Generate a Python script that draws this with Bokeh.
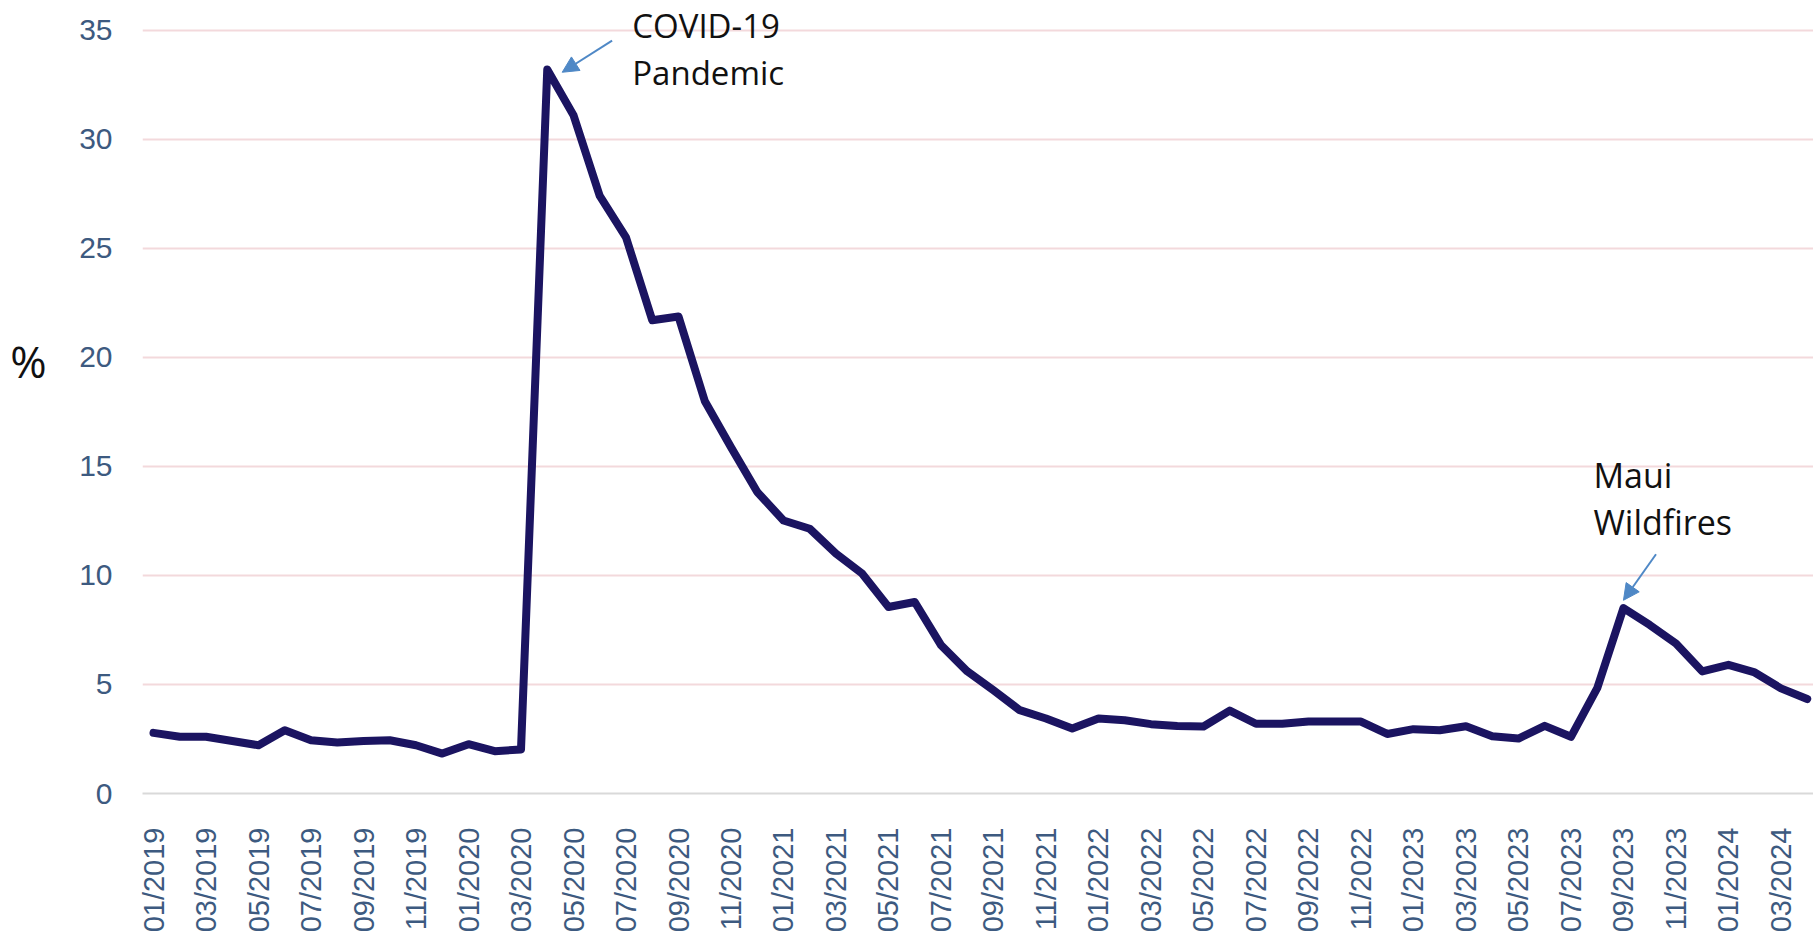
import math
from bokeh.plotting import figure
from bokeh.models import (ColumnDataSource, FixedTicker, Label, Arrow, NormalHead,
                          LinearAxis)
from bokeh.embed import file_html
from bokeh.resources import INLINE

# ---------------- data ----------------
years = [2019, 2020, 2021, 2022, 2023, 2024]
months = [f"{m:02d}/{y}" for y in years for m in range(1, 13)][:64]   # 01/2019 .. 04/2024

values = [
    2.78, 2.60, 2.60, 2.41, 2.21, 2.90, 2.44, 2.34, 2.41, 2.44, 2.21, 1.83,   # 2019
    2.26, 1.94, 2.02, 33.2, 31.1, 27.4, 25.5, 21.7, 21.87, 18.0, 15.88, 13.82,  # 2020
    12.52, 12.14, 11.0, 10.08, 8.55, 8.78, 6.80, 5.60, 4.73, 3.82, 3.44, 2.98,  # 2021
    3.44, 3.36, 3.18, 3.09, 3.07, 3.80, 3.20, 3.20, 3.30, 3.30, 3.30, 2.73,     # 2022
    2.95, 2.90, 3.08, 2.62, 2.52, 3.10, 2.60, 4.83, 8.50, 7.73, 6.88, 5.60,     # 2023
    5.90, 5.55, 4.82, 4.33,                                                      # 2024
]
y_ticks = [0, 5, 10, 15, 20, 25, 30, 35]
y_title = "%"

ann_covid = ["COVID-19", "Pandemic"]
ann_maui = ["Maui", "Wildfires"]
covid_month = "04/2020"
maui_month = "09/2023"

# ---------------- figure ----------------
idx = list(range(len(months)))
src = ColumnDataSource(dict(x=idx, y=values))

p = figure(width=1813, height=935, x_range=(-0.42, 63.24), y_range=(0, 36.36),
           output_backend="svg", toolbar_location=None,
           min_border_left=142, min_border_right=0, min_border_top=0,
           min_border_bottom=142)
p.outline_line_color = None
p.background_fill_color = "white"

p.line("x", "y", source=src, line_color="#1B1461", line_width=8,
       line_join="round", line_cap="round")

# axes
tick_color = "#3D5A80"
even = [i for i in idx if i % 2 == 0]
p.xaxis.ticker = FixedTicker(ticks=even)
p.xaxis.major_label_overrides = {i: months[i] for i in even}
p.xaxis.major_label_orientation = math.pi / 2
p.xaxis.major_label_text_font = "Liberation Sans"
p.xaxis.major_label_text_font_size = "29px"
p.xaxis.major_label_text_color = tick_color
p.xaxis.major_label_standoff = 28
p.xaxis.major_tick_line_color = None
p.xaxis.minor_tick_line_color = None
p.xaxis.axis_line_color = "#D9D9D9"
p.xaxis.axis_line_width = 2

p.yaxis.ticker = FixedTicker(ticks=y_ticks)
p.yaxis.major_label_text_font = "Liberation Sans"
p.yaxis.major_label_text_font_size = "30px"
p.yaxis.major_label_text_color = tick_color
p.yaxis.major_label_standoff = 24
p.yaxis.major_tick_line_color = None
p.yaxis.minor_tick_line_color = None
p.yaxis.axis_line_color = None

# "%" title drawn as the single label of an outer left axis
title_axis = LinearAxis(ticker=FixedTicker(ticks=[19.85]),
                        major_label_overrides={19.85: y_title},
                        major_label_text_font="Open Sans",
                        major_label_text_font_size="44px",
                        major_label_text_color="#111111",
                        major_label_standoff=24,
                        major_tick_line_color=None, minor_tick_line_color=None,
                        axis_line_color=None)
p.add_layout(title_axis, "left")

p.xgrid.grid_line_color = None
p.ygrid.grid_line_color = "#F3D9DC"
p.ygrid.grid_line_width = 2

# annotations
ci = months.index(covid_month)
mi = months.index(maui_month)
cv = values[ci]
mv = values[mi]
afont = "Open Sans"
for txt, off in zip(ann_covid, [44, -3]):
    p.add_layout(Label(x=ci, y=cv, x_offset=85, y_offset=off, text=txt,
                       text_font=afont, text_font_size="33px", text_color="#111111",
                       text_baseline="alphabetic", text_align="left"))
for txt, off in zip(ann_maui, [133, 86]):
    p.add_layout(Label(x=mi, y=mv, x_offset=-30, y_offset=off, text=txt,
                       text_font=afont, text_font_size="34px", text_color="#111111",
                       text_baseline="alphabetic", text_align="left"))

arrow_color = "#4F88C6"
p.add_layout(Arrow(x_start=ci + 2.47, y_start=cv + 1.32, x_end=ci + 0.57, y_end=cv - 0.13,
                   line_color=arrow_color, line_width=2,
                   end=NormalHead(size=16, fill_color=arrow_color, line_color=arrow_color)))
p.add_layout(Arrow(x_start=mi + 1.24, y_start=mv + 2.47, x_end=mi, y_end=mv + 0.36,
                   line_color=arrow_color, line_width=2,
                   end=NormalHead(size=16, fill_color=arrow_color, line_color=arrow_color)))

open("out.html", "w").write(file_html(p, INLINE))
